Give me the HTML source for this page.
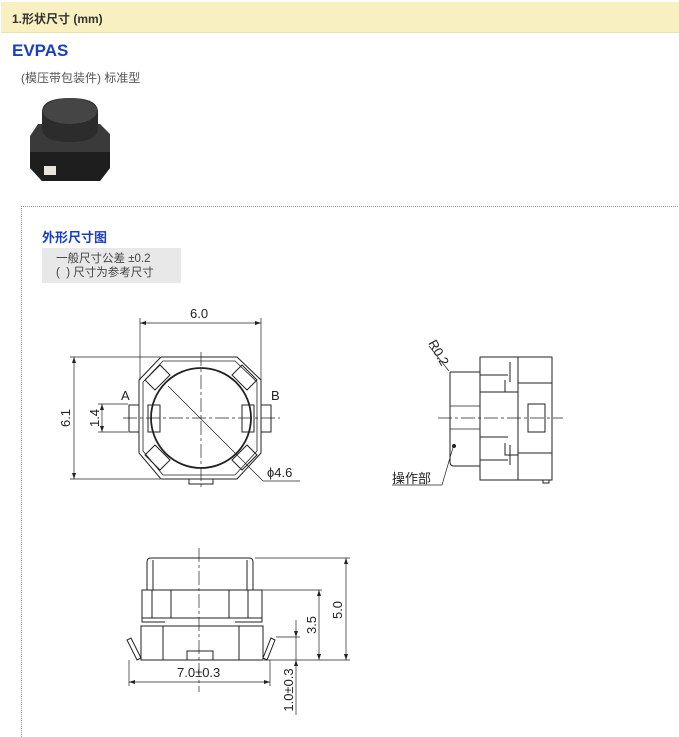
<!DOCTYPE html>
<html><head><meta charset="utf-8"><style>
body{margin:0;width:679px;height:723px;background:#fff;position:relative;overflow:hidden;font-family:"Liberation Sans","Noto Sans CJK SC",sans-serif}
.hdr{position:absolute;left:1px;top:2px;width:678px;height:30px;background:#f8f0c0;border-bottom:1px solid #ece2a8}
.hdr span{position:absolute;left:11px;top:8px;font-size:12px;font-weight:bold;color:#333}
.t1{position:absolute;left:12px;top:41px;font-size:17px;font-weight:bold;color:#1a3fbf}
.t2{position:absolute;left:21px;top:69px;font-size:12px;color:#555}
.box{position:absolute;left:21px;top:206px;width:670px;height:530px;border-left:1px dotted #999;border-top:1px dotted #999}
.t3{position:absolute;left:42px;top:227px;font-size:13px;font-weight:bold;color:#1a3fbf}
.gray{position:absolute;left:42px;top:248px;width:139px;height:35px;background:#e8e8e8;font-size:11.5px;color:#444;line-height:14px}
svg{position:absolute;left:0;top:0}
</style></head><body>
<div class="hdr"><span>1.形状尺寸 (mm)</span></div>
<div class="t1">EVPAS</div>
<div class="t2">(模压带包装件) 标准型</div>
<div class="box"></div>
<div class="t3">外形尺寸图</div>
<div class="gray"><div style="padding:4px 0 0 14px">一般尺寸公差 ±0.2<br>(&nbsp;&nbsp;) 尺寸为参考尺寸</div></div>
<svg width="679" height="723" viewBox="0 0 679 723" font-family="Liberation Sans, sans-serif">
<!-- photo -->
<g>
<polygon points="38,124 100,124 110,134 110,168 100,181 42,181 30,168 30,136" fill="#3a3a3a"/>
<polygon points="30,152 110,152 110,168 100,181 42,181 30,168" fill="#1e1e1e"/>
<path d="M42,112 Q42,98 70,98 Q98,98 98,112 L98,128 Q98,142 70,142 Q42,142 42,128 Z" fill="#2c2c2c"/>
<ellipse cx="70" cy="111" rx="27" ry="13" fill="#454545"/>
<rect x="44" y="166" width="12" height="9" fill="#e8e4dc"/>
</g>
<g stroke="#222" fill="none" stroke-width="1">
<!-- top view -->
<polygon points="161,357 237,357 261,380 261,453 237,479 161,479 139,453 139,380"/>
<polygon points="163,361 235,361 257,382 257,451 235,475 163,475 143,451 143,382" stroke-width="0.8"/>
<circle cx="201" cy="418" r="50" stroke-width="1.8"/>
<rect x="148" y="405" width="12" height="27"/><rect x="242" y="405" width="12" height="27"/>
<rect x="129" y="405" width="10" height="27"/><rect x="261" y="405" width="10" height="27"/>
<polygon points="145,380 160,365 170,375 155,390" /><polygon points="257,380 242,365 232,375 247,390"/>
<polygon points="145,455 160,470 170,460 155,445"/><polygon points="257,455 242,470 232,460 247,445"/>
<rect x="189" y="479" width="24" height="5"/>
<line x1="140" y1="318" x2="140" y2="380" stroke-width="0.7"/><line x1="261" y1="318" x2="261" y2="380" stroke-width="0.7"/>
<line x1="140" y1="323" x2="261" y2="323" stroke-width="0.7"/>
<line x1="70" y1="357" x2="160" y2="357" stroke-width="0.7"/><line x1="70" y1="479" x2="160" y2="479" stroke-width="0.7"/>
<line x1="74" y1="357" x2="74" y2="479" stroke-width="0.7"/>
<line x1="98" y1="404" x2="128" y2="404" stroke-width="0.7"/><line x1="98" y1="432" x2="128" y2="432" stroke-width="0.7"/>
<line x1="102" y1="404" x2="102" y2="432" stroke-width="0.7"/>
<line x1="123" y1="418" x2="280" y2="418" stroke-width="0.7" stroke-dasharray="14,3,3,3"/>
<line x1="201" y1="352" x2="201" y2="488" stroke-width="0.7" stroke-dasharray="14,3,3,3"/>
<line x1="168" y1="386" x2="263" y2="481" stroke-width="0.7"/><line x1="263" y1="481" x2="300" y2="481" stroke-width="0.7"/>
<!-- side view -->
<path d="M450,372 L480,372 M450,372 L450,462 Q450,466 454,466 L480,466" />
<line x1="450" y1="406" x2="480" y2="406" stroke-width="0.7"/><line x1="450" y1="429" x2="480" y2="429" stroke-width="0.7"/>
<rect x="480" y="357" width="72" height="123"/>
<line x1="518" y1="357" x2="518" y2="480"/>
<line x1="480" y1="375" x2="508" y2="375"/><line x1="480" y1="392" x2="508" y2="392"/>
<line x1="480" y1="437" x2="508" y2="437"/><line x1="480" y1="460" x2="508" y2="460"/>
<path d="M510,362 L510,382 M505,380 L505,392 L518,392 M510,445 L510,465 M505,443 L505,455 L518,455"/>
<line x1="518" y1="383" x2="552" y2="383"/><line x1="518" y1="453" x2="552" y2="453"/>
<rect x="528" y="404" width="17" height="28"/>
<rect x="543" y="480" width="6" height="3"/>
<line x1="438" y1="418" x2="563" y2="418" stroke-width="0.7" stroke-dasharray="14,3,3,3"/>
<line x1="429" y1="346" x2="449" y2="371" stroke-width="0.7"/>
<line x1="392" y1="485" x2="442" y2="485" stroke-width="0.7"/><line x1="442" y1="485" x2="454" y2="444" stroke-width="0.7"/>
<circle cx="454" cy="446" r="1.5" fill="#222"/>
<!-- bottom view -->
<path d="M147,590 L147,562 Q147,558 151,558 L249,558 Q253,558 253,562 L253,590"/>
<line x1="153" y1="560" x2="153" y2="590"/><line x1="247" y1="560" x2="247" y2="590"/>
<rect x="142" y="590" width="120" height="28"/>
<line x1="152" y1="590" x2="152" y2="618"/><line x1="171" y1="590" x2="171" y2="618"/>
<line x1="229" y1="590" x2="229" y2="618"/><line x1="248" y1="590" x2="248" y2="618"/>
<path d="M142,618 L142,622 L165,622 M262,618 L262,622 L235,622"/>
<rect x="141" y="626" width="122" height="34"/>
<line x1="163" y1="626" x2="163" y2="660"/><line x1="239" y1="626" x2="239" y2="660"/>
<rect x="187" y="651" width="26" height="9"/>
<path d="M141,658 L131,638 L127,640 L137,660 Z"/><path d="M263,658 L271,638 L275,640 L267,660 Z"/>
<line x1="199" y1="548" x2="199" y2="692" stroke-width="0.7" stroke-dasharray="14,3,3,3"/>
<line x1="255" y1="558" x2="350" y2="558" stroke-width="0.7"/><line x1="262" y1="590" x2="322" y2="590" stroke-width="0.7"/>
<line x1="264" y1="660" x2="350" y2="660" stroke-width="0.7"/>
<line x1="346" y1="558" x2="346" y2="660" stroke-width="0.7"/>
<line x1="319" y1="590" x2="319" y2="660" stroke-width="0.7"/>
<line x1="276" y1="637" x2="300" y2="637" stroke-width="0.7"/>
<line x1="296" y1="620" x2="296" y2="715" stroke-width="0.7"/>
<line x1="129" y1="660" x2="129" y2="686" stroke-width="0.7"/><line x1="270" y1="660" x2="270" y2="686" stroke-width="0.7"/>
<line x1="129" y1="682" x2="270" y2="682" stroke-width="0.7"/>
</g>
<g fill="#222">
<polygon points="140,323 146,321 146,325"/><polygon points="261,323 255,321 255,325"/>
<polygon points="74,357 72,363 76,363"/><polygon points="74,479 72,473 76,473"/>
<polygon points="102,404 100,410 104,410"/><polygon points="102,432 100,426 104,426"/>
<polygon points="346,558 344,564 348,564"/><polygon points="346,660 344,654 348,654"/>
<polygon points="319,590 317,596 321,596"/><polygon points="319,660 317,654 321,654"/>
<polygon points="296,637 294,631 298,631"/><polygon points="296,660 294,666 298,666"/>
<polygon points="129,682 135,680 135,684"/><polygon points="270,682 264,680 264,684"/>
</g>
<g font-size="13" fill="#222">
<text x="190" y="318">6.0</text>
<text x="121" y="400">A</text><text x="271" y="400">B</text>
<text x="267" y="477">ϕ4.6</text>
<text transform="translate(70,418) rotate(-90)" text-anchor="middle">6.1</text>
<text transform="translate(99,418) rotate(-90)" text-anchor="middle">1.4</text>
<text transform="translate(428,343) rotate(60)">R0.2</text>
<text x="392" y="483" font-family="Liberation Sans, Noto Sans CJK SC, sans-serif">操作部</text>
<text transform="translate(342,610) rotate(-90)" text-anchor="middle">5.0</text>
<text transform="translate(316,625) rotate(-90)" text-anchor="middle">3.5</text>
<text transform="translate(293,690) rotate(-90)" text-anchor="middle">1.0±0.3</text>
<text x="177" y="677">7.0±0.3</text>
</g>
</svg>
</body></html>
